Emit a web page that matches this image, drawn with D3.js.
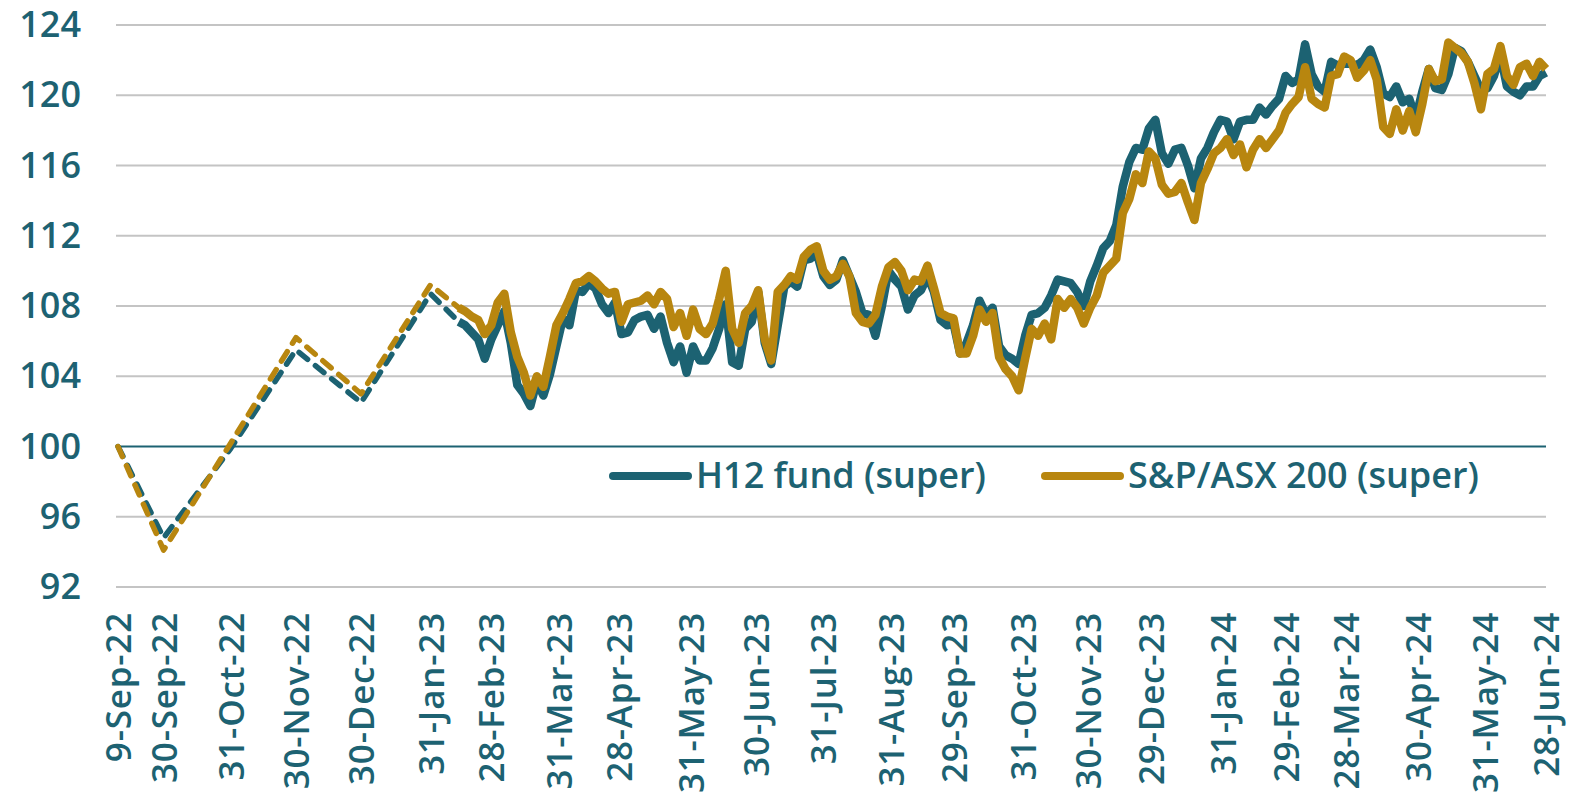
<!DOCTYPE html>
<html>
<head>
<meta charset="utf-8">
<script src="https://cdn.jsdelivr.net/npm/d3@7"></script>
<style>
	body { margin: 0; background: #ffffff; }
	svg { display: block; }
	svg text { font-family: 'Open Sans', 'Noto Sans', sans-serif; }
</style>
</head>
<body>
<svg id="chart" width="1583" height="795"></svg>
<script>
'use strict';

	// monthly points (dashed part)
	var arrayMonthDates = ['2022-09-09','2022-09-30','2022-10-31','2022-11-30','2022-12-30','2023-01-31','2023-02-13'];
	var arrayMonthH12 = [100, 94.8, 99.9, 105.5, 102.5, 108.7, 107.1];
	var arrayMonthAsx = [100, 94.1, 100.2, 106.2, 103.0, 109.2, 107.9];

	// daily part, one value every 3 days from 13-Feb-23 to 28-Jun-24
	var strDailyStart = '2023-02-13';
	var nDailyStep = 3;
	var arrayDailyH12 = [
		107.1,106.9,106.5,106.1,105.0,106.1,106.9,107.7,105.9,103.5,
		103.0,102.3,103.7,102.9,104.1,105.7,107.3,106.9,108.9,108.8,
		109.3,109.0,108.1,107.6,108.2,106.4,106.5,107.2,107.4,107.5,
		106.7,107.4,105.9,104.8,105.7,104.2,105.7,104.9,104.9,105.6,
		106.7,108.1,104.8,104.6,106.7,107.1,108.8,105.9,104.7,106.9,
		109.1,109.4,109.1,110.6,110.7,111.0,109.7,109.2,109.5,110.6,
		109.7,108.8,107.6,107.5,106.3,108.0,110.0,109.5,109.1,107.8,
		108.6,108.9,109.7,108.8,107.2,106.9,107.0,105.3,105.9,106.9,
		108.3,107.5,107.9,105.7,105.2,105.0,104.7,106.3,107.5,107.6,
		107.9,108.6,109.5,109.4,109.3,108.8,108.0,109.4,110.3,111.3,
		111.7,112.6,114.8,116.2,117.0,116.9,118.1,118.6,116.7,116.1,
		116.9,117.0,116.0,114.7,116.4,117.0,117.9,118.6,118.5,117.5,
		118.5,118.6,118.6,119.3,118.9,119.4,119.8,121.1,120.7,120.9,
		122.9,121.2,120.5,120.2,121.9,121.7,121.8,121.8,121.7,122.0,
		122.6,121.6,120.1,119.9,120.5,119.6,119.8,118.7,120.2,121.5,
		120.4,120.3,121.2,122.7,122.5,121.9,121.1,120.3,120.4,121.1,
		122.3,120.5,120.2,120.0,120.5,120.5,121.1,121.3
	];
	var arrayDailyAsx = [
		107.9,107.7,107.4,107.2,106.4,106.9,108.2,108.7,106.5,105.1,
		104.2,102.9,104.0,103.4,105.1,106.9,107.6,108.4,109.3,109.4,
		109.7,109.4,109.0,108.7,108.8,107.1,108.1,108.2,108.3,108.6,
		108.1,108.8,108.4,106.8,107.6,106.3,107.8,106.7,106.4,107.0,
		108.4,110.0,106.7,105.9,107.6,108.0,108.9,106.1,104.9,108.8,
		109.2,109.7,109.5,110.8,111.2,111.4,110.0,109.5,109.7,110.4,
		109.7,107.6,107.1,107.0,107.5,109.1,110.2,110.5,110.0,108.9,
		109.5,109.4,110.3,109.0,107.6,107.4,107.3,105.3,105.3,106.3,
		107.8,107.1,107.6,105.1,104.4,104.0,103.2,105.0,106.7,106.3,
		107.0,106.1,108.4,107.9,108.4,107.9,107.0,107.9,108.6,109.9,
		110.3,110.7,113.3,114.1,115.5,115.0,116.8,116.4,114.9,114.4,
		114.5,115.0,113.9,112.9,115.0,115.8,116.7,117.0,117.5,116.6,
		117.2,115.9,116.9,117.5,117.0,117.5,118.0,119.0,119.5,119.9,
		121.6,119.8,119.5,119.3,121.1,121.2,122.2,122.0,121.0,121.4,
		122.0,120.9,118.2,117.8,119.2,118.0,119.1,117.9,119.5,121.5,
		120.8,120.9,123.0,122.7,122.4,121.9,120.7,119.2,121.2,121.5,
		122.8,121.1,120.6,121.6,121.8,121.1,121.9,121.5
	];

	var arrayTickDates = ['2022-09-09','2022-09-30','2022-10-31','2022-11-30','2022-12-30','2023-01-31',
		'2023-02-28','2023-03-31','2023-04-28','2023-05-31','2023-06-30','2023-07-31','2023-08-31',
		'2023-09-29','2023-10-31','2023-11-30','2023-12-29','2024-01-31','2024-02-29','2024-03-28',
		'2024-04-30','2024-05-31','2024-06-28'];
	var arrayYTicks = [92, 96, 100, 104, 108, 112, 116, 120, 124];

	var arraySeries = [
		{ name: 'H12 fund (super)', color: '#1c6272', month: arrayMonthH12, daily: arrayDailyH12 },
		{ name: 'S&P/ASX 200 (super)', color: '#b8860f', month: arrayMonthAsx, daily: arrayDailyAsx }
	];

	var strText = '#1d6272';
	var strFont = "'Open Sans', 'Noto Sans', sans-serif";
	var parseDate = d3.timeParse('%Y-%m-%d');

	var dateStart = parseDate(strDailyStart);
	var arrayDailyDates = arrayDailyH12.map(function(f, i)
	{
		return d3.timeDay.offset(dateStart, i * nDailyStep);
	});

	var svg = d3.select('#chart');

	var x = d3.scaleTime()
		.domain([parseDate('2022-09-09'), parseDate('2024-06-28')])
		.range([118, 1546]);
	var y = d3.scaleLinear()
		.domain([92, 124])
		.range([587, 25]);

	// grid
	svg.append('g')
		.selectAll('line')
		.data(arrayYTicks)
		.enter()
			.append('line')
			.attr('x1', 116)
			.attr('x2', 1546)
			.attr('y1', function(v) { return y(v); })
			.attr('y2', function(v) { return y(v); })
			.attr('stroke', function(v) { return v == 100 ? '#1c6272' : '#c4c4c4'; })
			.attr('stroke-width', 2);

	// y labels
	var gY = svg.append('g')
		.attr('transform', 'translate(116,0)')
		.call(d3.axisLeft(y).tickValues(arrayYTicks).tickSize(0).tickPadding(35));
	gY.select('.domain').remove();
	gY.selectAll('text')
		.attr('fill', strText)
		.style('font-family', strFont)
		.style('font-size', '36px')
		.style('font-weight', 600);

	// x labels
	var gX = svg.append('g')
		.attr('transform', 'translate(0,587)')
		.call(d3.axisBottom(x)
			.tickValues(arrayTickDates.map(parseDate))
			.tickFormat(d3.timeFormat('%-d-%b-%y'))
			.tickSize(0));
	gX.select('.domain').remove();
	gX.selectAll('text')
		.attr('transform', 'rotate(-90)')
		.attr('x', -25)
		.attr('y', 0)
		.attr('dy', '0.36em')
		.style('text-anchor', 'end')
		.attr('fill', strText)
		.style('font-family', strFont)
		.style('font-size', '35px')
		.style('font-weight', 600)
		.style('letter-spacing', '0.8px');

	var line = d3.line()
		.x(function(d) { return x(d[0]); })
		.y(function(d) { return y(d[1]); });

	arraySeries.forEach(function(series)
	{
		var arrayMonth = arrayMonthDates.map(function(s, i) { return [parseDate(s), series.month[i]]; });
		svg.append('path')
			.attr('d', line(arrayMonth))
			.attr('fill', 'none')
			.attr('stroke', series.color)
			.attr('stroke-width', 5.5)
			.attr('stroke-dasharray', '11,10')
			.attr('stroke-linecap', 'round')
			.attr('stroke-linejoin', 'round');
	});

	arraySeries.forEach(function(series)
	{
		var arrayDaily = arrayDailyDates.map(function(d, i) { return [d, series.daily[i]]; });
		svg.append('path')
			.attr('d', line(arrayDaily))
			.attr('fill', 'none')
			.attr('stroke', series.color)
			.attr('stroke-width', 8.5)
			.attr('stroke-linejoin', 'round');
	});

	// legend
	var arrayLegendX = [613, 1045];
	arraySeries.forEach(function(series, i)
	{
		var nX = arrayLegendX[i];
		svg.append('line')
			.attr('x1', nX)
			.attr('x2', nX + 75)
			.attr('y1', 476)
			.attr('y2', 476)
			.attr('stroke', series.color)
			.attr('stroke-width', 8)
			.attr('stroke-linecap', 'round');
		svg.append('text')
			.attr('x', nX + 83)
			.attr('y', 488)
			.attr('fill', strText)
			.style('font-size', '36px')
			.style('font-weight', 600)
			.text(series.name);
	});
</script>
</body>
</html>
